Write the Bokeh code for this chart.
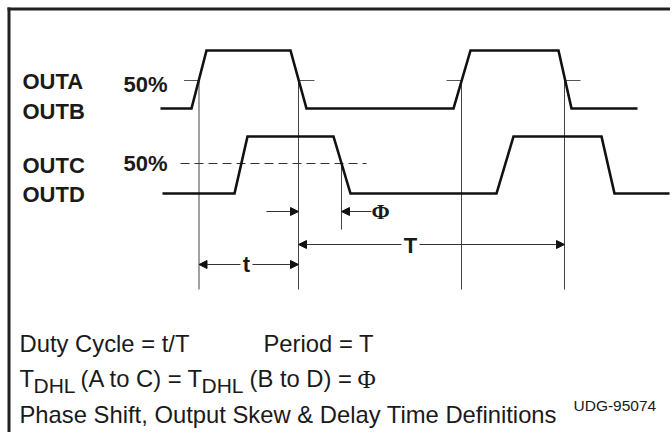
from bokeh.plotting import figure
from bokeh.models import Range1d, Label, Arrow, NormalHead
from bokeh.embed import file_html
from bokeh.resources import INLINE

# ---- data (diagram units: x to the right, y downward) ----
ab_x = [160, 191, 206, 290, 306, 453, 470, 558, 571, 637]
ab_y = [108, 108, 50, 50, 108, 108, 50, 50, 108, 108]
cd_x = [162, 234, 247, 333, 350, 496, 513, 601, 614, 669]
cd_y = [193, 193, 136, 136, 193, 193, 136, 136, 193, 193]
ab_mid = 80          # 50% level of OUTA/OUTB
cd_mid = 163         # 50% level of OUTC/OUTD
ab_cross = [198.5, 298, 461, 564]   # 50% crossings of OUTA/OUTB
ab_edge = ["rise", "fall", "rise", "fall"]
cd_cross = [341]                    # 50% crossing of OUTC/OUTD (falling)
row_labels = ["OUTA", "OUTB", "OUTC", "OUTD"]
row_label_y = [81, 110.5, 165, 193.5]
pct_label = "50%"
pct_label_y = [84, 163]

W, H = 670, 432
p = figure(width=W, height=H, x_range=Range1d(0, W), y_range=Range1d(H, 0),
           output_backend="svg", toolbar_location=None,
           x_axis_location=None, y_axis_location=None, min_border=0,
           outline_line_color=None, background_fill_color="white",
           border_fill_color="white")
p.xgrid.visible = False
p.ygrid.visible = False

# frame (top and left edges)
p.segment(x0=[7, 8.5], y0=[8.5, 7], x1=[W, 8.5], y1=[8.5, H],
          line_color="#222222", line_width=3)

thin = "#444444"

# 50% tick marks on OUTA/OUTB
tx, ty = [], []
for x, e in zip(ab_cross, ab_edge):
    if e == "rise":
        tx.append([x - 15, x])
    else:
        tx.append([x, x + 16])
    ty.append([ab_mid, ab_mid])
p.multi_line(tx, ty, line_color="#555555", line_width=1)

# dashed 50% line on OUTC/OUTD
p.line([180, 366], [cd_mid, cd_mid], line_color="#333333", line_width=1.2, line_dash="9 5")

# vertical reference lines
p.multi_line([[x, x] for x in ab_cross], [[ab_mid, 289] for _ in ab_cross],
             line_color=thin, line_width=1)
p.multi_line([[x, x] for x in cd_cross], [[cd_mid, 229] for _ in cd_cross],
             line_color=thin, line_width=1)

# waveforms
p.line(ab_x, ab_y, line_color="#111111", line_width=2.6, line_join="miter")
p.line(cd_x, cd_y, line_color="#111111", line_width=2.6, line_join="miter")

# arrows
def arrow(x0, x1, y):
    p.add_layout(Arrow(end=NormalHead(size=8, fill_color="#111111", line_color="#111111", line_width=1),
                       x_start=x0, y_start=y, x_end=x1, y_end=y,
                       line_color="#333333", line_width=1.2))

arrow(266, ab_cross[1], 211)
arrow(371, cd_cross[0], 211)
arrow(401, ab_cross[1], 244)
arrow(419, ab_cross[3], 244)
arrow(240, ab_cross[0], 264)
arrow(252, ab_cross[1], 264)

FONT = "Liberation Sans"

def lab(x, y, t, size, style="normal", baseline="middle", align="left", font=FONT, color="#1a1a1a"):
    p.add_layout(Label(x=x, y=y, text=t, text_font=font, text_font_size=f"{size}px",
                       text_font_style=style, text_baseline=baseline, text_align=align,
                       text_color=color))

for t, y in zip(row_labels, row_label_y):
    lab(22, y, t, 22, "bold")
for y in pct_label_y:
    lab(123, y, pct_label, 22, "bold")

lab(380, 211, "\u03a6", 22, "bold", align="center", font="Liberation Serif")
lab(410, 245, "T", 22, "bold", align="center")
lab(246, 264, "t", 22, "bold", align="center")

# bottom text block
BS = 23.8
lab(19, 342.5, "Duty Cycle = t/T", BS)
lab(263, 342.5, "Period = T", BS)
lab(19, 377.5, "T", BS)
lab(33, 384.5, "DHL", 21)
lab(80, 377.5, "(A to C) =", BS)
lab(187, 377.5, "T", BS)
lab(201, 384.5, "DHL", 21)
lab(249, 377.5, "(B to D) =", BS)
lab(357, 379, "\u03a6", 25, font="Liberation Serif")
lab(19, 413.5, "Phase Shift, Output Skew & Delay Time Definitions", BS)
lab(573, 405, "UDG-95074", 15.5)

open("out.html", "w").write(file_html(p, INLINE))
